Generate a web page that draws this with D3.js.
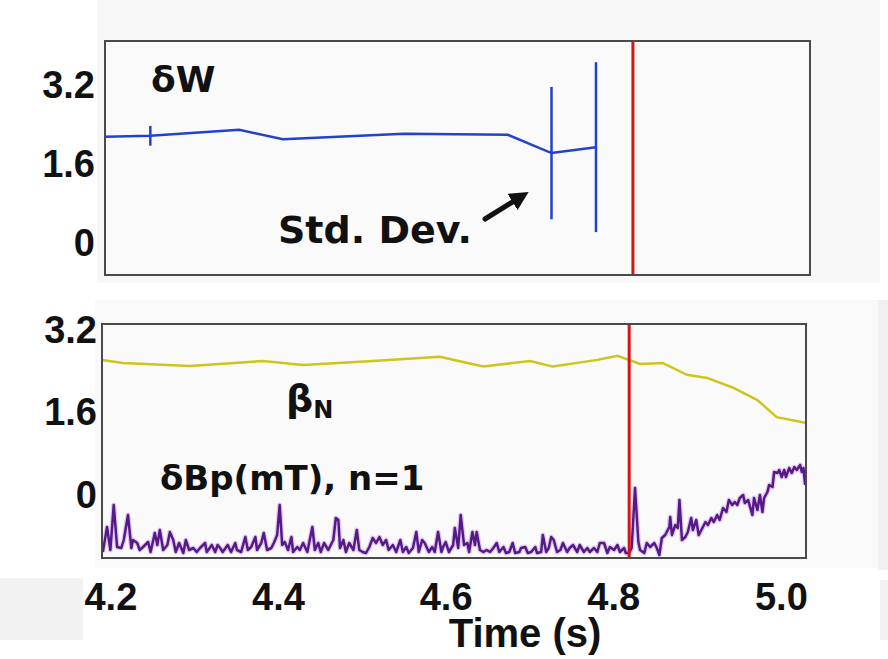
<!DOCTYPE html>
<html><head><meta charset="utf-8">
<script src="https://cdn.jsdelivr.net/npm/d3@7"></script>
<style>body{margin:0;background:#fff}</style>
</head><body><svg id="c" width="888" height="659"></svg>
<script>
// ---- data ----
const timeDomain = [4.19, 5.03];
const xTicks = [4.2, 4.4, 4.6, 4.8, 5.0];
const yTicks = [0, 1.6, 3.2];

// delta W (top panel)
const dwTime  = [4.190, 4.244, 4.350, 4.402, 4.546, 4.670, 4.722, 4.775];
const dwValue = [2.15, 2.17, 2.29, 2.10, 2.21, 2.19, 1.82, 1.94];
const dwStd   = [0, 0.20, 0, 0, 0, 0, 1.34, 1.72];

// beta_N (bottom panel)
const betaTime  = [4.190, 4.215, 4.295, 4.382, 4.430, 4.513, 4.593, 4.645, 4.701, 4.728, 4.781, 4.805, 4.832, 4.859, 4.888, 4.912, 4.943, 4.972, 4.995, 5.029];
const betaValue = [2.62, 2.56, 2.50, 2.60, 2.52, 2.60, 2.68, 2.49, 2.60, 2.49, 2.62, 2.70, 2.54, 2.56, 2.33, 2.27, 2.08, 1.84, 1.51, 1.40];

// delta Bp (mT), n=1  [time, value]
const dBp = [
[4.191,0.3],[4.196,2.8],[4.200,0.5],[4.204,5.0],[4.208,0.8],[4.213,0.7],[4.216,1.5],[4.221,4.0],[4.225,0.7],[4.227,1.5],[4.232,1.2],[4.235,0.5],[4.239,0.8],[4.245,1.3],[4.248,0.3],[4.253,2.2],[4.256,1.0],[4.259,2.5],[4.263,0.5],[4.268,1.0],[4.271,2.3],[4.275,1.5],[4.278,0.3],[4.282,1.2],[4.287,0.2],[4.290,1.5],[4.294,0.5],[4.299,0.7],[4.303,0.3],[4.307,0.7],[4.313,1.2],[4.315,0.3],[4.321,1.0],[4.325,0.3],[4.328,1.0],
[4.331,0.7],[4.334,0.3],[4.340,1.0],[4.344,0.3],[4.349,1.2],[4.351,0.5],[4.356,0.3],[4.361,1.8],[4.364,0.5],[4.368,0.8],[4.373,1.8],[4.375,0.5],[4.380,1.2],[4.383,2.2],[4.387,0.5],[4.392,0.7],[4.395,1.2],[4.399,2.0],[4.402,5.0],[4.405,1.0],[4.408,1.3],[4.412,0.5],[4.416,1.8],[4.418,0.3],[4.423,0.8],[4.426,0.5],[4.430,1.2],[4.435,0.3],[4.441,2.8],[4.444,0.5],[4.448,1.2],[4.451,0.3],[4.455,1.2],[4.460,0.5],[4.466,1.5],[4.469,3.7],
[4.472,3.5],[4.474,0.7],[4.478,1.5],[4.481,0.3],[4.485,1.2],[4.490,0.5],[4.494,2.5],[4.497,0.5],[4.501,0.3],[4.505,0.2],[4.509,0.8],[4.513,1.7],[4.517,1.2],[4.521,1.8],[4.525,1.0],[4.529,1.5],[4.532,0.5],[4.537,1.0],[4.541,0.3],[4.546,1.5],[4.549,0.3],[4.553,0.8],[4.556,0.2],[4.561,0.7],[4.565,2.3],[4.568,0.3],[4.572,1.5],[4.575,1.2],[4.580,0.3],[4.584,0.8],[4.587,0.3],[4.591,2.3],[4.595,0.3],[4.597,0.8],[4.600,1.3],[4.604,0.3],[4.609,1.0],[4.611,2.7],
[4.615,0.7],[4.618,4.0],[4.622,1.0],[4.626,1.2],[4.628,0.3],[4.632,2.3],[4.635,1.0],[4.637,2.3],[4.641,0.5],[4.645,0.3],[4.649,0.5],[4.653,0.3],[4.657,0.7],[4.661,1.2],[4.664,0.3],[4.669,0.8],[4.672,0.2],[4.676,0.3],[4.680,1.2],[4.683,0.2],[4.688,0.3],[4.690,0.7],[4.695,0.8],[4.698,0.2],[4.702,0.3],[4.707,0.8],[4.709,0.2],[4.714,0.3],[4.716,2.0],[4.720,0.3],[4.723,0.7],[4.726,1.8],[4.729,1.5],[4.733,0.3],[4.737,0.5],[4.740,1.2],[4.745,0.3],[4.748,0.7],[4.752,1.0],
[4.757,0.3],[4.760,1.0],[4.765,0.3],[4.769,0.7],[4.772,0.3],[4.777,0.7],[4.781,0.3],[4.784,1.2],[4.789,1.2],[4.793,0.2],[4.796,0.8],[4.801,0.5],[4.805,1.0],[4.808,0.3],[4.813,0.7],[4.815,0.2],[4.819,0.2],[4.822,0.7],[4.826,6.7],[4.830,1.3],[4.832,0.5],[4.837,0.2],[4.840,1.2],[4.844,0.8],[4.849,1.2],[4.852,0.7],[4.855,0.0],[4.858,1.7],[4.862,2.0],[4.867,2.8],[4.868,3.8],[4.870,2.0],[4.874,3.0],[4.877,2.7],[4.879,5.5],[4.882,1.5],[4.886,1.8],[4.889,2.3],[4.893,3.7],
[4.895,2.5],[4.899,3.5],[4.902,2.0],[4.907,2.8],[4.910,3.3],[4.913,3.0],[4.917,3.7],[4.920,3.3],[4.924,4.0],[4.927,3.5],[4.931,4.7],[4.935,4.3],[4.938,5.5],[4.942,5.0],[4.945,5.3],[4.948,5.0],[4.951,5.7],[4.955,6.0],[4.957,5.2],[4.961,5.5],[4.966,4.0],[4.968,5.7],[4.972,4.5],[4.975,6.0],[4.978,4.3],[4.980,5.7],[4.984,6.3],[4.986,7.0],[4.990,6.8],[4.992,8.3],[4.996,8.2],[4.998,8.5],[5.001,7.8],[5.004,8.5],[5.006,7.8],[5.010,8.7],[5.013,8.2],[5.016,8.8],[5.019,8.5],[5.023,9.0],[5.025,8.3],[5.027,8.7],[5.029,7.0]
];

const redLineTime = 4.819;

// ---- drawing ----
const svg = d3.select("#c");
const numFont = "'Liberation Sans', Arial, sans-serif";
const txtFont = "'DejaVu Sans', sans-serif";

// screenshot-like background patches
svg.append("rect").attr("x",97).attr("y",0).attr("width",783).attr("height",283).attr("fill","#f8f8f8");
svg.append("rect").attr("x",95).attr("y",300).attr("width",785).attr("height",268).attr("fill","#f9f9f9");
svg.append("rect").attr("x",0).attr("y",578).attr("width",83).attr("height",62).attr("fill","#f2f2f2");
svg.append("rect").attr("x",878).attr("y",300).attr("width",10).attr("height",270).attr("fill","#f0f0f0");
svg.append("rect").attr("x",880).attr("y",580).attr("width",8).attr("height",60).attr("fill","#f2f2f2");

const PH = 234;
const gTop = svg.append("g").attr("transform","translate(105,41)");
const gBot = svg.append("g").attr("transform","translate(102,324)");

const xTop = d3.scaleLinear().domain(timeDomain).range([0,705]);
const xBot = d3.scaleLinear().domain(timeDomain).range([0,704]);
const yTop = d3.scaleLinear().domain([-0.648,4.089]).range([PH,0]);
const yBot = d3.scaleLinear().domain([-1.222,3.316]).range([PH,0]);
const yBp  = d3.scaleLinear().domain([-0.3,23.1]).range([PH,0]);

const defs = svg.append("defs");
defs.append("clipPath").attr("id","clipB").append("rect").attr("width",704).attr("height",PH);
defs.append("clipPath").attr("id","clipT").append("rect").attr("width",705).attr("height",PH);
defs.append("marker").attr("id","ah").attr("viewBox","0 0 10 10").attr("refX",4).attr("refY",5)
  .attr("markerWidth",3.8).attr("markerHeight",3.8).attr("orient","auto")
  .append("path").attr("d","M0,0 L10,5 L0,10 z").attr("fill","#111");

// panel boxes
gTop.append("rect").attr("width",705).attr("height",PH).attr("fill","#fafafa");
gBot.append("rect").attr("width",704).attr("height",PH).attr("fill","#fafafa");

// ---- top panel: delta W ----
const tg = gTop.append("g").attr("clip-path","url(#clipT)");
const dwData = d3.zip(dwTime, dwValue, dwStd);
tg.append("path").datum(dwData)
  .attr("d", d3.line().x(d=>xTop(d[0])).y(d=>yTop(d[1])))
  .attr("fill","none").attr("stroke","#2241cf").attr("stroke-width",2.5);
tg.selectAll(".eb").data(dwData.filter(d=>d[2]>0)).join("line")
  .attr("x1",d=>xTop(d[0])).attr("x2",d=>xTop(d[0]))
  .attr("y1",d=>yTop(d[1]-d[2])).attr("y2",d=>yTop(d[1]+d[2]))
  .attr("stroke","#2241cf").attr("stroke-width",2.5);
tg.append("line").attr("x1",xTop(redLineTime)).attr("x2",xTop(redLineTime))
  .attr("y1",0).attr("y2",PH).attr("stroke","#d41515").attr("stroke-width",3);

// ---- bottom panel ----
const bg = gBot.append("g").attr("clip-path","url(#clipB)");
const betaData = d3.zip(betaTime, betaValue);
bg.append("path").datum(betaData)
  .attr("d", d3.line().x(d=>xBot(d[0])).y(d=>yBot(d[1])))
  .attr("fill","none").attr("stroke","#d0c41a").attr("stroke-width",2.5);
const bpLine = d3.line().x(d=>xBot(d[0])).y(d=>yBp(d[1]));
bg.append("path").datum(dBp).attr("d",bpLine)
  .attr("fill","none").attr("stroke","#c08de3").attr("stroke-width",5).attr("stroke-opacity",0.45)
  .attr("stroke-linejoin","round");
bg.append("path").datum(dBp).attr("d",bpLine)
  .attr("fill","none").attr("stroke","#561a88").attr("stroke-width",2.5).attr("stroke-linejoin","round");
bg.append("line").attr("x1",xBot(redLineTime)).attr("x2",xBot(redLineTime))
  .attr("y1",0).attr("y2",PH).attr("stroke","#d41515").attr("stroke-width",3);

// borders
gTop.append("rect").attr("width",705).attr("height",PH).attr("fill","none").attr("stroke","#4a4a4a").attr("stroke-width",2);
gBot.append("rect").attr("width",704).attr("height",PH).attr("fill","none").attr("stroke","#4a4a4a").attr("stroke-width",2);

// ---- axes ----
function styleAxis(g){
  g.select(".domain").remove();
  g.selectAll("text").attr("font-family",numFont).attr("font-weight","bold")
    .attr("font-size",38).attr("fill","#111");
}
gTop.append("g").call(d3.axisLeft(yTop).tickValues(yTicks).tickSize(0).tickPadding(10)
  .tickFormat(d=>d===0?"0":d3.format(".1f")(d))).call(styleAxis);
gBot.append("g").call(d3.axisLeft(yBot).tickValues(yTicks).tickSize(0).tickPadding(5)
  .tickFormat(d=>d===0?"0":d3.format(".1f")(d))).call(styleAxis);
gBot.append("g").attr("transform",`translate(0,${PH})`)
  .call(d3.axisBottom(xBot).tickValues(xTicks).tickSize(0).tickPadding(25).tickFormat(d3.format(".1f")))
  .call(styleAxis);

svg.append("text").attr("x",525).attr("y",647).attr("text-anchor","middle")
  .attr("font-family",numFont).attr("font-weight","bold").attr("font-size",40).attr("fill","#111")
  .text("Time (s)");

// ---- annotations ----
svg.append("text").attr("x",151).attr("y",92).attr("font-family",txtFont).attr("font-weight","bold")
  .attr("font-size",36).attr("fill","#111").text("δW");
svg.append("text").attr("x",278).attr("y",243).attr("font-family",txtFont).attr("font-weight","bold")
  .attr("font-size",38).attr("fill","#111").text("Std. Dev.");
svg.append("line").attr("x1",485).attr("y1",219).attr("x2",519).attr("y2",198)
  .attr("stroke","#111").attr("stroke-width",5).attr("stroke-linecap","round").attr("marker-end","url(#ah)");
const bt = svg.append("text").attr("x",286).attr("y",411).attr("font-family",txtFont).attr("font-weight","bold")
  .attr("font-size",38).attr("fill","#111");
bt.append("tspan").text("β");
bt.append("tspan").attr("font-size",24).attr("dy",7).text("N");
svg.append("text").attr("x",160).attr("y",490).attr("font-family",txtFont).attr("font-weight","bold")
  .attr("font-size",34).attr("fill","#111").text("δBp(mT), n=1");
</script></body></html>
